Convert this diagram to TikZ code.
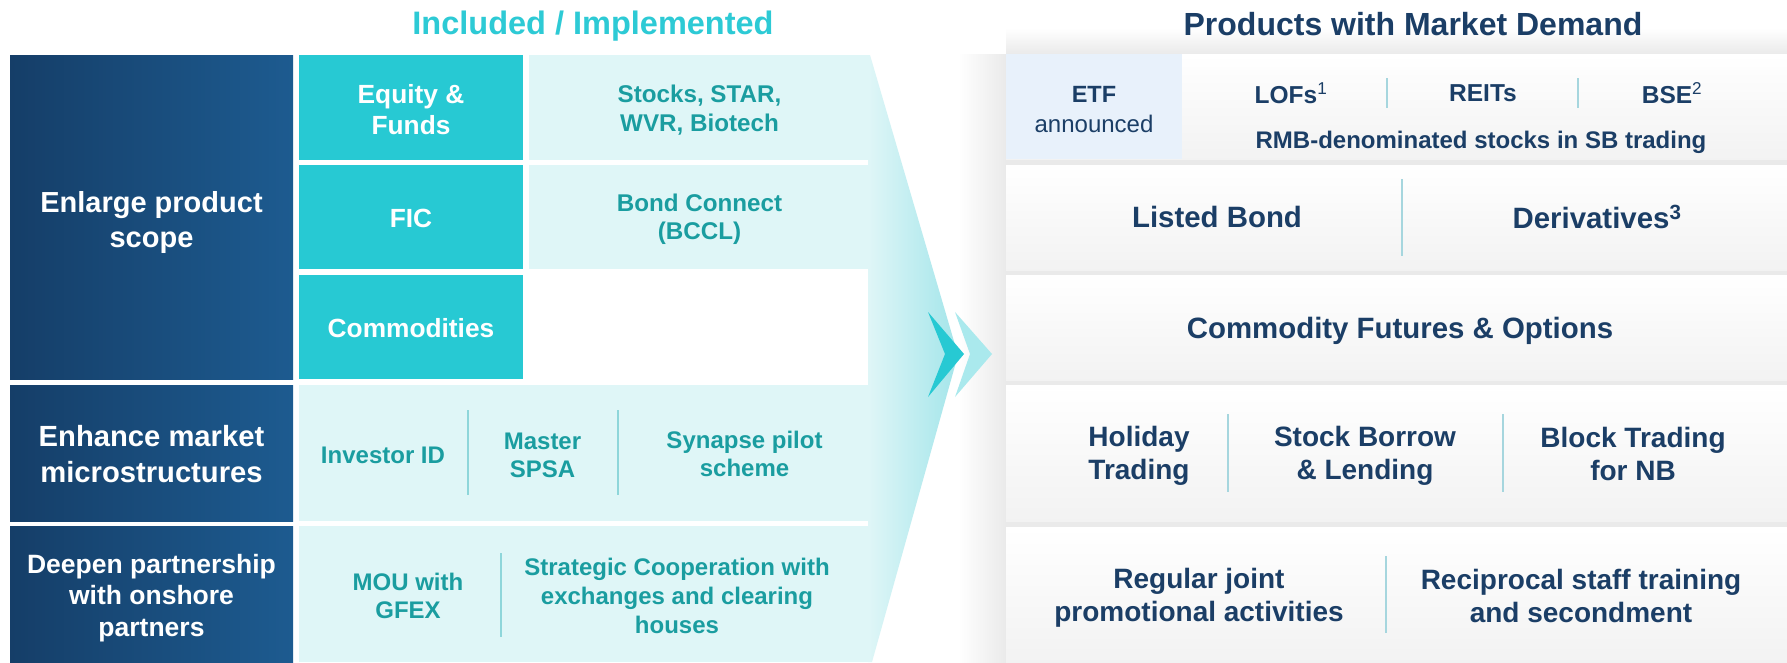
\documentclass[tikz,border=0pt]{standalone}
\usepackage{fontspec}
\setmainfont{Liberation Sans}
\definecolor{navyL}{HTML}{153E68}
\definecolor{navyR}{HTML}{1D5B90}
\definecolor{tealbox}{HTML}{27C9D3}
\definecolor{lcyan}{HTML}{DFF6F7}
\definecolor{tealtxt}{HTML}{1A9DA0}
\definecolor{titlecyan}{HTML}{2DCAD5}
\definecolor{navytxt}{HTML}{1B3E66}
\definecolor{etfbg}{HTML}{E8F1FB}
\definecolor{divl}{HTML}{8ED6DA}
\definecolor{divr}{HTML}{A6D6DE}
\definecolor{gapgray}{HTML}{EAEAEA}
\definecolor{funnelR}{HTML}{A3E5EA}
\definecolor{chevL}{HTML}{AAE9ED}
\tikzset{
  fs/.style n args={2}{font=\fontsize{#1}{#2}\selectfont\bfseries},
  darkbox/.style={left color=navyL, right color=navyR, draw=none, inner sep=0pt},
  darktxt/.style={text=white, align=center, inner sep=0pt, fs={29}{35}},
  tealcell/.style={fill=tealbox, inner sep=0pt},
  tealtx/.style={text=white, align=center, inner sep=0pt, fs={26.3}{31.5}},
  cyancell/.style={fill=lcyan, inner sep=0pt},
  ltxt/.style={text=tealtxt, align=center, inner sep=0pt, fs={24}{28}},
  rpanel/.style={top color=white, bottom color=white!95!black, inner sep=0pt, draw=none},
  rtxt/.style={text=navytxt, align=center, inner sep=0pt, fs={28}{33}},
  rsmall/.style={text=navytxt, align=center, inner sep=0pt, fs={24.5}{28}},
  divL/.style={draw=divl, line width=1.2pt},
  divR/.style={draw=divr, line width=1.2pt},
}
\begin{document}
\begin{tikzpicture}[x=1pt,y=-1pt]
\useasboundingbox (0,0) rectangle (1787,662);
\fill[white] (0,0) rectangle (1787,662);

% ---------- right background shadows ----------
\shade[top color=white, bottom color=gapgray] (1006,28) rectangle (1787,54);
\shade[left color=white, right color=gapgray] (958,54) rectangle (1006,662);
\fill[gapgray] (1006,54) rectangle (1787,662);

% ---------- titles ----------
\node[text=titlecyan, fs={32.5}{38}] (t1) at (593,26) {Included / Implemented};
\node[text=navytxt, fs={32}{38}] (t2) at (1413,24) {Products with Market Demand};

% ---------- funnel ----------
\shade[left color=lcyan, right color=funnelR] (870,55) -- (958,355) -- (872,662) -- (868,662) -- (868,55) -- cycle;

% ---------- left blocks ----------
\node[darkbox, minimum width=283, minimum height=324] (a) at (151.5,217) {};
\node[darkbox, minimum width=283, minimum height=136] (b) at (151.5,453) {};
\node[darkbox, minimum width=283, minimum height=136] (c) at (151.5,594) {};
\node[darktxt] (at) at ([yshift=-5pt]a.center) {Enlarge product\\scope};
\node[darktxt, font=\fontsize{29.2}{36.5}\selectfont\bfseries] (bt) at ([yshift=-1pt]b.center) {Enhance market\\microstructures};
\node[darktxt, fs={26.5}{31.7}] (ct) at ([yshift=-4pt]c.center) {Deepen partnership\\with onshore\\partners};

\node[tealcell, minimum width=224, minimum height=105] (eq) at (411,107.5) {};
\node[tealcell, minimum width=224, minimum height=104] (fic) at (411,217) {};
\node[tealcell, minimum width=224, minimum height=104] (com) at (411,327) {};
\node[tealtx] (eqt) at ([yshift=-2pt]eq.center) {Equity \&\\Funds};
\node[tealtx] (fict) at ([yshift=-1pt]fic.center) {FIC};
\node[tealtx] (comt) at ([yshift=-1pt]com.center) {Commodities};

\node[cyancell, minimum width=341, minimum height=105] (stk) at (699.5,107.5) {};
\node[cyancell, minimum width=341, minimum height=104] (bond) at (699.5,217) {};
\node[ltxt, fs={24.2}{29}] (stkt) at ([yshift=-3pt]stk.center) {Stocks, STAR,\\WVR, Biotech};
\node[ltxt, fs={24.2}{28}] (bondt) at ([yshift=-2pt]bond.center) {Bond Connect\\(BCCL)};

\node[cyancell, minimum width=571, minimum height=136] (pb) at (584.5,453) {};
\node[cyancell, minimum width=571, minimum height=136] (pc) at (584.5,594) {};

\node[ltxt] (inv) at (383,455) {Investor ID};
\node[ltxt] (msp) at (542.5,455) {Master\\SPSA};
\node[ltxt] (syn) at (744.5,454) {Synapse pilot\\scheme};
\draw[divL] (468,410) -- (468,495);
\draw[divL] (618,410) -- (618,495);

\node[ltxt] (mou) at (408,596) {MOU with\\GFEX};
\node[ltxt, fs={24}{29}] (str) at (677,596) {Strategic Cooperation with\\exchanges and clearing\\houses};
\draw[divL] (501,553) -- (501,637);

% ---------- chevrons ----------
\fill[tealbox] (928,312) -- (964,354) -- (928,397) -- (945,354) -- cycle;
\fill[chevL] (955,312) -- (992,354) -- (955,397) -- (970,354) -- cycle;

% ---------- right panels ----------
\node[rpanel, minimum width=781, minimum height=105, anchor=north west] (r1) at (1006,54) {};
\fill[etfbg] (1006,54) rectangle (1182,159);
\node[rpanel, minimum width=781, minimum height=105, anchor=north west] (r2) at (1006,165) {};
\node[rpanel, minimum width=781, minimum height=105, anchor=north west] (r3) at (1006,275) {};
\node[rpanel, minimum width=781, minimum height=136, anchor=north west] (r4) at (1006,385) {};
\node[rpanel, minimum width=781, minimum height=135, anchor=north west] (r5) at (1006,527) {};

\node[rsmall, fs={23.5}{28}] (etf) at (1094,94) {ETF};
\node[rsmall, font=\fontsize{24}{28}\selectfont] (ann) at (1094,124) {announced};
\node[rsmall] (lof) at (1291,93) {LOFs\textsuperscript{\mdseries 1}};
\node[rsmall] (reit) at (1483,93) {REITs};
\node[rsmall] (bse) at (1672,93) {BSE\textsuperscript{\mdseries 2}};
\draw[divR] (1387,78) -- (1387,108);
\draw[divR] (1578,78) -- (1578,108);
\node[rsmall, fs={24}{28}] (rmb) at (1481,142) {RMB-denominated stocks in SB trading};

\node[rtxt, fs={29.4}{34}] (lb) at (1217,217) {Listed Bond};
\node[rtxt, fs={29.4}{34}] (der) at (1597,217) {Derivatives\textsuperscript{3}};
\draw[divR] (1402,179) -- (1402,256);

\node[rtxt, fs={29.4}{36}] (cfo) at (1400,331) {Commodity Futures \& Options};

\node[rtxt] (hol) at (1139,456) {Holiday\\Trading};
\node[rtxt] (sbl) at (1365,456) {Stock Borrow\\\& Lending};
\node[rtxt] (blk) at (1633,454) {Block Trading\\for NB};
\draw[divR] (1228,414) -- (1228,492);
\draw[divR] (1503,414) -- (1503,492);

\node[rtxt] (reg) at (1199,598) {Regular joint\\promotional activities};
\node[rtxt] (rec) at (1581,596) {Reciprocal staff training\\and secondment};
\draw[divR] (1386,556) -- (1386,633);
\end{tikzpicture}
\end{document}
